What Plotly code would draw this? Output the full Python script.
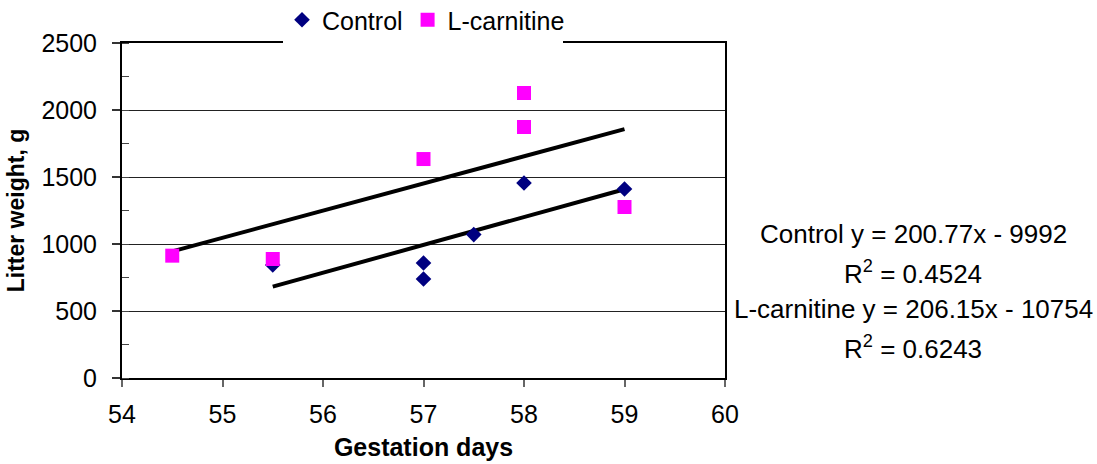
import numpy as np
import plotly.graph_objects as go

control_x = [55.5, 57, 57, 57.5, 58, 59]
control_y = [843, 858, 739, 1070, 1455, 1410]
lcarn_x = [54.5, 55.5, 57, 58, 58, 59]
lcarn_y = [913, 888, 1634, 2127, 1873, 1276]
x_ticks = [54, 55, 56, 57, 58, 59, 60]
y_ticks = [0, 500, 1000, 1500, 2000, 2500]
eq_lines = ["Control y = 200.77x - 9992", "R<sup>2</sup> = 0.4524",
            "L-carnitine y = 206.15x - 10754", "R<sup>2</sup> = 0.6243"]

FONT = "Liberation Sans, Arial, sans-serif"

# plot area in pixels (for paper-coordinate helpers)
L, R, T, B = 122, 725, 43, 378
W, H = 1097, 464
PW, PH = R - L, B - T

def px_x(x):
    return (x - L) / PW

def px_y(y):
    return (B - y) / PH

def fit_line(xs, ys):
    m, b = np.polyfit(xs, ys, 1)
    xx = np.array([min(xs), max(xs)])
    return xx, m * xx + b

fig = go.Figure()
cx, cy = fit_line(control_x, control_y)
lx, ly = fit_line(lcarn_x, lcarn_y)
fig.add_trace(go.Scatter(x=lx, y=ly, mode="lines", line=dict(color="black", width=4),
                         showlegend=False, hoverinfo="skip"))
fig.add_trace(go.Scatter(x=cx, y=cy, mode="lines", line=dict(color="black", width=4),
                         showlegend=False, hoverinfo="skip"))
fig.add_trace(go.Scatter(x=control_x, y=control_y, mode="markers", name="Control",
                         marker=dict(symbol="diamond", color="#000080", size=12)))
fig.add_trace(go.Scatter(x=lcarn_x, y=lcarn_y, mode="markers", name="L-carnitine",
                         marker=dict(symbol="square", color="#FF00FF", size=14)))

eq_y = [234, 272, 309, 347]
annotations = [dict(text=t, x=px_x(913), y=px_y(yy), xref="paper", yref="paper",
                    xanchor="center", yanchor="middle", showarrow=False,
                    font=dict(size=26)) for t, yy in zip(eq_lines, eq_y)]

fig.update_layout(
    width=W, height=H,
    margin=dict(l=L, r=W - R, t=T, b=H - B, autoexpand=False),
    paper_bgcolor="white", plot_bgcolor="white",
    font=dict(family=FONT, size=25, color="black"),
    legend=dict(orientation="h", x=px_x(282), xanchor="left", y=px_y(20), yanchor="middle",
                bgcolor="rgba(0,0,0,0)", font=dict(size=25),
                traceorder="normal", borderwidth=0),
    annotations=annotations,
    shapes=[dict(type="rect", xref="paper", yref="paper",
                 x0=px_x(283), x1=px_x(563), y0=px_y(47), y1=px_y(38),
                 fillcolor="white", line=dict(width=0), layer="above")],
)
fig.update_xaxes(range=[54, 60], tickvals=x_ticks, ticks="outside", ticklen=7,
                 tickcolor="#666", tickwidth=1.5, showgrid=False, zeroline=False,
                 showline=True, linecolor="black", linewidth=2, mirror=True,
                 tickfont=dict(size=25), ticklabelstandoff=6,
                 title=dict(text="<b>Gestation days</b>", font=dict(size=25), standoff=11))
fig.update_yaxes(range=[0, 2500], tickvals=y_ticks, ticks="outside", ticklen=8,
                 tickcolor="#333", tickwidth=1.5, showgrid=True, gridcolor="#222",
                 gridwidth=1, zeroline=False, showline=True, linecolor="black",
                 linewidth=2, mirror=True, tickfont=dict(size=25), ticklabelstandoff=10,
                 minor=dict(dtick=250, ticks="inside", ticklen=7, tickcolor="#444",
                            tickwidth=1, showgrid=False),
                 title=dict(text="<b>Litter weight, g</b>", font=dict(size=23), standoff=10))

fig.write_html("out.html", config={"displayModeBar": False},
               post_script="document.body.style.margin='0';")
